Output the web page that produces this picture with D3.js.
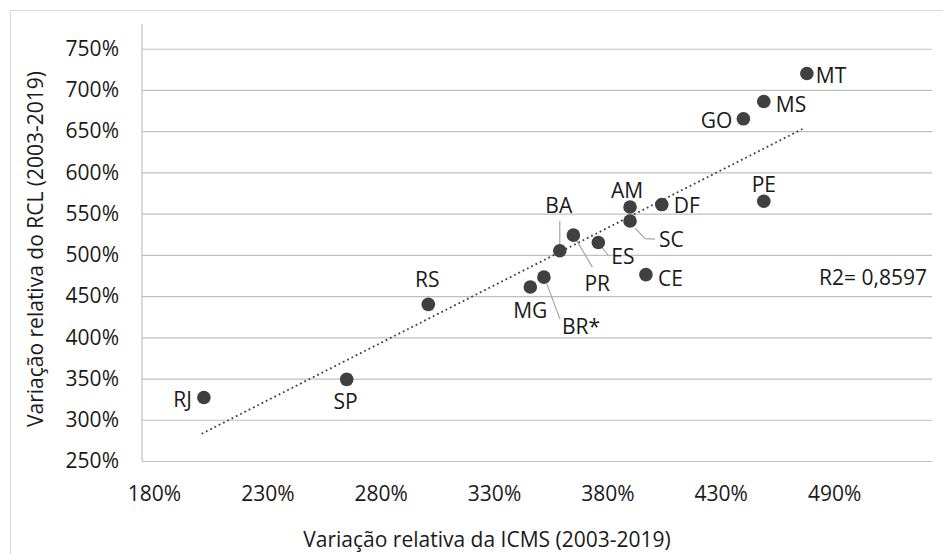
<!DOCTYPE html>
<html>
<head>
<meta charset="utf-8">
<script src="https://cdn.jsdelivr.net/npm/d3@7"></script>
<style>
  body { margin: 0; background: #fff; }
  text { font-family: "Open Sans", sans-serif; fill: #1a1a1a; }
</style>
</head>
<body>
<div id="chart"></div>
<script>
// data
let states = ["RJ", "SP", "RS", "MG", "BR*", "BA", "PR", "ES", "AM", "SC", "CE", "DF", "GO", "MS", "PE", "MT"];
let icms = [202, 265, 301, 346, 352, 359, 365, 376, 390, 390, 397, 404, 440, 449, 449, 468];
let rcl = [327, 349, 440, 461, 473, 505, 524, 515, 558, 541, 476, 561, 665, 686, 565, 720];

let trendX = [201, 467];
let trendY = [283, 654];

let xTicks = [180, 230, 280, 330, 380, 430, 480];
let xTickLabels = ["180%", "230%", "280%", "330%", "380%", "430%", "490%"];
let yTicks = [250, 300, 350, 400, 450, 500, 550, 600, 650, 700, 750];

let svgWidth = 943;
let svgHeight = 554;

let plot = { left: 142, right: 932, top: 24, bottom: 461 };

let svg = d3.select("#chart")
  .append("svg")
  .attr("width", svgWidth)
  .attr("height", svgHeight);

// chart border
svg.append("rect")
  .attr("x", 10.5)
  .attr("y", 10.5)
  .attr("width", 945)
  .attr("height", 560)
  .attr("fill", "none")
  .attr("stroke", "#d9d9d9")
  .attr("stroke-width", 1);

let x = d3.scaleLinear()
  .domain([174.7, 523.2])
  .range([plot.left, plot.right]);

let y = d3.scaleLinear()
  .domain([250, 780])
  .range([plot.bottom, plot.top]);

let w = plot.right - plot.left;

// y axis with gridlines
let yAxis = svg.append("g")
  .attr("transform", `translate(${plot.left},0)`)
  .call(d3.axisLeft(y)
    .tickValues(yTicks)
    .tickSize(-w)
    .tickPadding(23)
    .tickFormat(d => d + "%"));

yAxis.select(".domain").remove();
yAxis.selectAll(".tick line")
  .attr("stroke", "#bfbfbf")
  .attr("stroke-width", 1.2);
yAxis.selectAll(".tick text")
  .attr("font-size", 21)
  .attr("font-family", "Open Sans, sans-serif")
  .attr("fill", "#1a1a1a");

svg.append("line")
  .attr("x1", plot.left)
  .attr("x2", plot.left)
  .attr("y1", plot.top)
  .attr("y2", plot.bottom)
  .attr("stroke", "#bfbfbf")
  .attr("stroke-width", 1.2);

// x axis labels
let xAxis = svg.append("g")
  .attr("transform", `translate(0,${plot.bottom})`)
  .call(d3.axisBottom(x)
    .tickValues(xTicks)
    .tickSize(0)
    .tickFormat((d, i) => xTickLabels[i]));

xAxis.select(".domain").remove();
xAxis.selectAll(".tick text")
  .attr("dy", null)
  .attr("y", 40)
  .attr("font-size", 21)
  .attr("font-family", "Open Sans, sans-serif")
  .attr("fill", "#1a1a1a");

// trend line
svg.append("line")
  .attr("x1", x(trendX[0]))
  .attr("y1", y(trendY[0]))
  .attr("x2", x(trendX[1]))
  .attr("y2", y(trendY[1]))
  .attr("stroke", "#404040")
  .attr("stroke-width", 1.8)
  .attr("stroke-dasharray", "1.8,3");

let data = states.map((s, i) => ({ state: s, icms: icms[i], rcl: rcl[i] }));

// label placement: anchor, dx, dy (+ optional leader line)
let labelPos = {
  "MT": ["start", 9, 10],
  "MS": ["start", 12, 10],
  "GO": ["end", -11, 9],
  "PE": ["middle", 0, -9],
  "AM": ["middle", -3, -9],
  "DF": ["start", 12, 8],
  "SC": ["start", 29, 26, [[5, 7], [15, 17.5], [25, 18]]],
  "BA": ["middle", -1, -38, [[0, -30], [0, -6]]],
  "PR": ["start", 11, 56, [[3, 5], [19, 32]]],
  "ES": ["start", 13, 21, [[3, 4], [10, 13]]],
  "CE": ["start", 12, 11],
  "MG": ["middle", 0, 31],
  "BR*": ["start", 18, 57, [[3, 7], [16, 42]]],
  "RS": ["middle", -1, -17],
  "SP": ["middle", -1, 30],
  "RJ": ["end", -12, 9]
};

// leader lines
data.forEach(d => {
  let p = labelPos[d.state];
  if (p[3]) {
    let cx = x(d.icms), cy = y(d.rcl);
    svg.append("path")
      .attr("d", d3.line()(p[3].map(q => [cx + q[0], cy + q[1]])))
      .attr("fill", "none")
      .attr("stroke", "#a6a6a6")
      .attr("stroke-width", 1.2);
  }
});

svg.selectAll(".dot")
  .data(data)
  .enter()
  .append("circle")
  .attr("class", "dot")
  .attr("cx", d => x(d.icms))
  .attr("cy", d => y(d.rcl))
  .attr("r", 6.8)
  .attr("fill", "#404040");

svg.selectAll(".stateText")
  .data(data)
  .enter()
  .append("text")
  .attr("class", "stateText")
  .attr("x", d => x(d.icms) + labelPos[d.state][1])
  .attr("y", d => y(d.rcl) + labelPos[d.state][2])
  .attr("text-anchor", d => labelPos[d.state][0])
  .attr("font-size", 21)
  .text(d => d.state);

// r squared
svg.append("text")
  .attr("x", 927)
  .attr("y", 285)
  .attr("text-anchor", "end")
  .attr("font-size", 21)
  .text("R2= 0,8597");

// axis titles
svg.append("text")
  .attr("x", 487)
  .attr("y", 547)
  .attr("text-anchor", "middle")
  .attr("font-size", 21)
  .text("Variação relativa da ICMS (2003-2019)");

svg.append("text")
  .attr("transform", "rotate(-90)")
  .attr("x", -249)
  .attr("y", 43)
  .attr("text-anchor", "middle")
  .attr("font-size", 21)
  .text("Variação relativa do RCL (2003-2019)");
</script>
</body>
</html>
